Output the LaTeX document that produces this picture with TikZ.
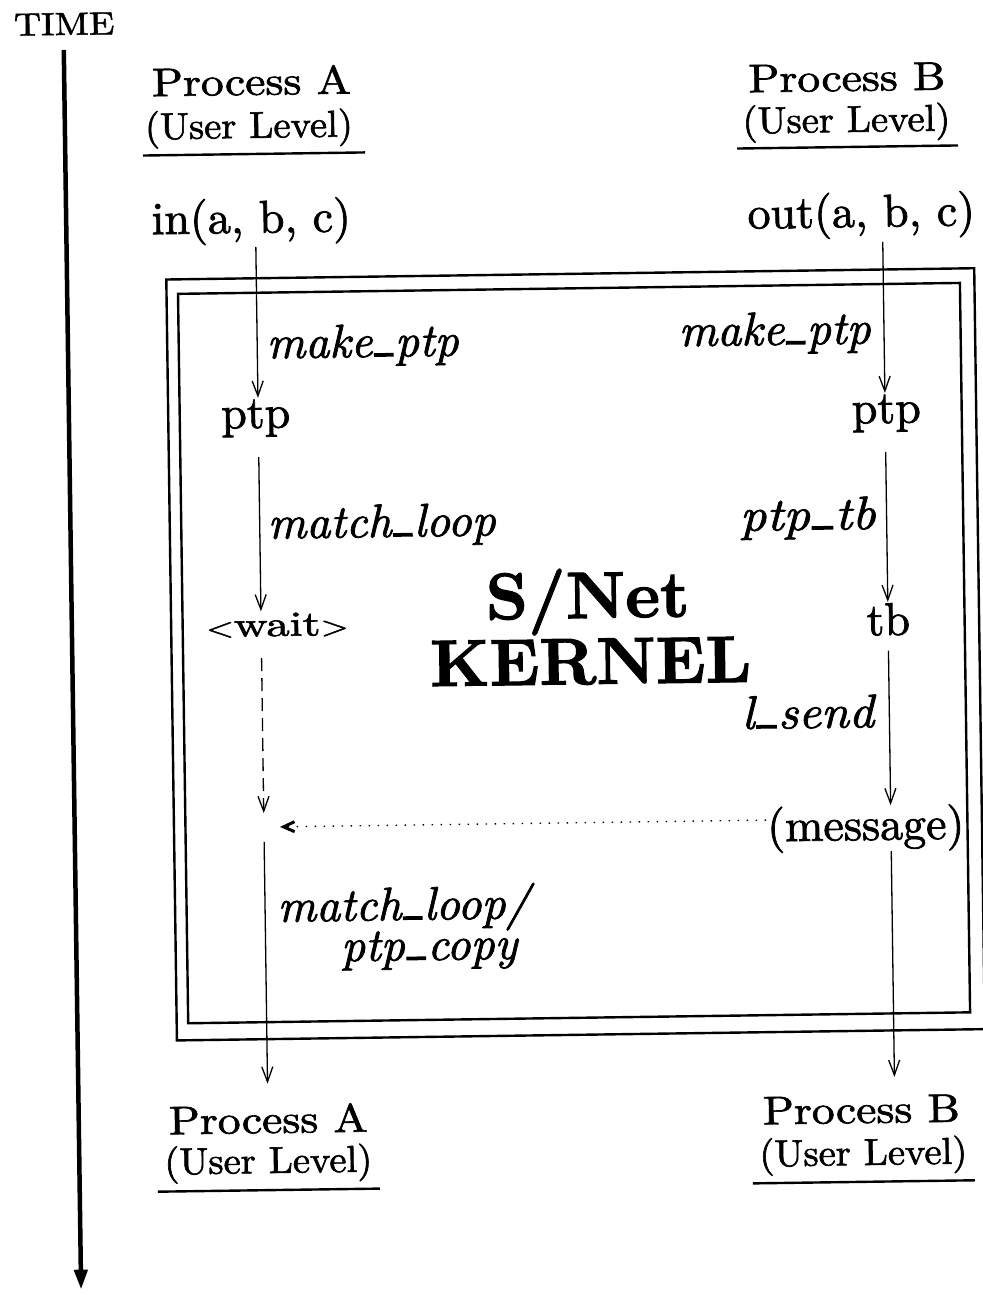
\documentclass[tikz,border=0pt]{standalone}
\usepackage{fontspec}
\setmainfont{lmroman10-regular.otf}[FakeBold=1.6,ItalicFont=lmroman10-italic.otf,BoldFont=lmroman10-bold.otf,BoldItalicFont=lmroman10-bolditalic.otf]
\usetikzlibrary{arrows.meta}
\newcommand\lowbar{\kern0.03em\rule{0.42em}{0.08em}\kern0.03em}
\begin{document}
\begin{tikzpicture}[x=1pt,y=-1pt,
  txt/.style={inner sep=0pt, outer sep=0pt, anchor=base},
  body/.style={txt, font=\fontsize{46}{50}\selectfont},
  proc/.style={txt, font=\fontsize{40}{44}\selectfont},
  ulev/.style={txt, font=\fontsize{37.5}{42}\selectfont},
  ttl/.style={txt, font=\fontsize{32}{36}\selectfont},
  call/.style={txt, font=\fontsize{47}{52}\selectfont\itshape},
  kern/.style={txt, font=\fontsize{66}{70}\selectfont\bfseries},
  frame/.style={line width=2.4pt},
  uline/.style={line width=2.4pt},
  flow/.style={line width=1.3pt, -{Straight Barb[length=15pt,width=11pt]}},
  waitflow/.style={flow, dash pattern=on 13pt off 7pt},
  msgflow/.style={line width=1.4pt, dash pattern=on 1.4pt off 7.6pt,
    -{Straight Barb[length=11pt,width=10pt,line width=3pt]}},
  timeline/.style={line width=4.5pt, -{Triangle[length=20pt,width=13pt]}}
]
\useasboundingbox (0,0) rectangle (982,1295);
\fill[white] (0,0) rectangle (982,1295);
\begin{scope}[rotate around={0.8:(491,650)}, transform shape]
  % columns and junctions
  \coordinate (colA) at (261.5,0);
  \coordinate (colB) at (888.5,0);
  \coordinate (J) at (261.5,824);
  \coordinate (tEnd) at (72.2,1284);

  % kernel frame
  \draw[frame] (171.5,275) rectangle (979.5,1036);
  \draw[frame] (183,289.5) rectangle (965,1019);

  % time axis
  \node[ttl] (time) at (73,29) {\scalebox{1.17}[1]{TIME}};
  \draw[timeline, shorten <=15pt] (time.south -| tEnd) -- (tEnd);

  % top headers
  \node[proc] (pA1) at (259.3,91.6) {\scalebox{1.14}[1]{Process A}};
  \node[ulev] (uA1) at (256.2,134.6) {\scalebox{1.03}[1]{(User Level)}};
  \draw[uline] (150,150.7) -- (372,150.7);
  \node[proc] (pB1) at (854.8,96) {\scalebox{1.14}[1]{Process B}};
  \node[ulev] (uB1) at (853.8,137) {\scalebox{1.03}[1]{(User Level)}};
  \draw[uline] (744,152) -- (965,152);

  % calls
  \node[body] (inA) at (257.3,229.6) {in(a, b, c)};
  \node[body] (outB) at (867.4,232.2) {out(a, b, c)};

  % left column
  \node[body] (ptpA) at (259.1,424.7) {ptp};
  \node[txt] (waitA) at (277.7,633) {\scalebox{1.33}[1]{\fontsize{27}{28}\selectfont<\fontsize{35}{38}\selectfont wait\fontsize{27}{28}\selectfont>}};
  \node[call, anchor=base west] (mkA) at (271,355.3) {make\lowbar ptp};
  \node[call, anchor=base west] (mlA) at (269.5,535.5) {match\lowbar loop};
  \node[call, anchor=base west] (mlB) at (274,918.8) {match\lowbar loop/};
  \node[call, anchor=base west] (pcopy) at (337,959.2) {ptp\lowbar copy};

  % right column
  \node[body] (ptpB) at (889.7,428.5) {ptp};
  \node[body] (tbB) at (888.7,640.6) {tb};
  \node[body] (msg) at (863.3,845.3) {(message)};
  \node[call, anchor=base east] (mkB) at (875,348.9) {make\lowbar ptp};
  \node[call, anchor=base east] (ptb) at (877.5,534.4) {\scalebox{1.1}[1]{ptp\lowbar tb}};
  \node[call, anchor=base east] (lsend) at (873,732.5) {\scalebox{1.05}[1]{l\lowbar send}};

  % kernel title
  \node[kern] (snet) at (588.4,619.4) {S/Net};
  \node[kern] (kernel) at (590.5,685.4) {KERNEL};

  % bottom headers
  \node[proc] (pA2) at (261.7,1129.9) {\scalebox{1.14}[1]{Process A}};
  \node[ulev] (uA2) at (261.2,1169.9) {\scalebox{1.03}[1]{(User Level)}};
  \draw[uline] (150.4,1187) -- (372.4,1187);
  \node[proc] (pB2) at (854.9,1128.2) {\scalebox{1.14}[1]{Process B}};
  \node[ulev] (uB2) at (856.3,1170.2) {\scalebox{1.03}[1]{(User Level)}};
  \draw[uline] (745.5,1187) -- (967.5,1187);

  % left flow
  \draw[flow, shorten <=2.5pt, shorten >=1.8pt] (inA.south -| colA) -- (ptpA.north -| colA);
  \draw[flow, shorten <=20.2pt, shorten >=1.8pt] (ptpA.south -| colA) -- (waitA.north -| colA);
  \draw[waitflow, shorten <=21pt, shorten >=14pt] (waitA.south -| colA) -- (J);
  \draw[flow, shorten <=14.8pt, shorten >=20.7pt] (J) -- (pA2.north -| colA);

  % message
  \draw[msgflow, shorten <=1pt, shorten >=16pt] (J -| msg.west) -- (J);

  % right flow
  \draw[flow, shorten <=3.8pt, shorten >=1.7pt] (outB.south -| colB) -- (ptpB.north -| colB);
  \draw[flow, shorten <=20.1pt, shorten >=1.2pt] (ptpB.south -| colB) -- (tbB.north -| colB);
  \draw[flow, shorten <=15pt] (tbB.south -| colB) -- (msg.north -| colB);
  \draw[flow, shorten >=18.3pt] (msg.south -| colB) -- (pB2.north -| colB);
\end{scope}
\end{tikzpicture}
\end{document}
